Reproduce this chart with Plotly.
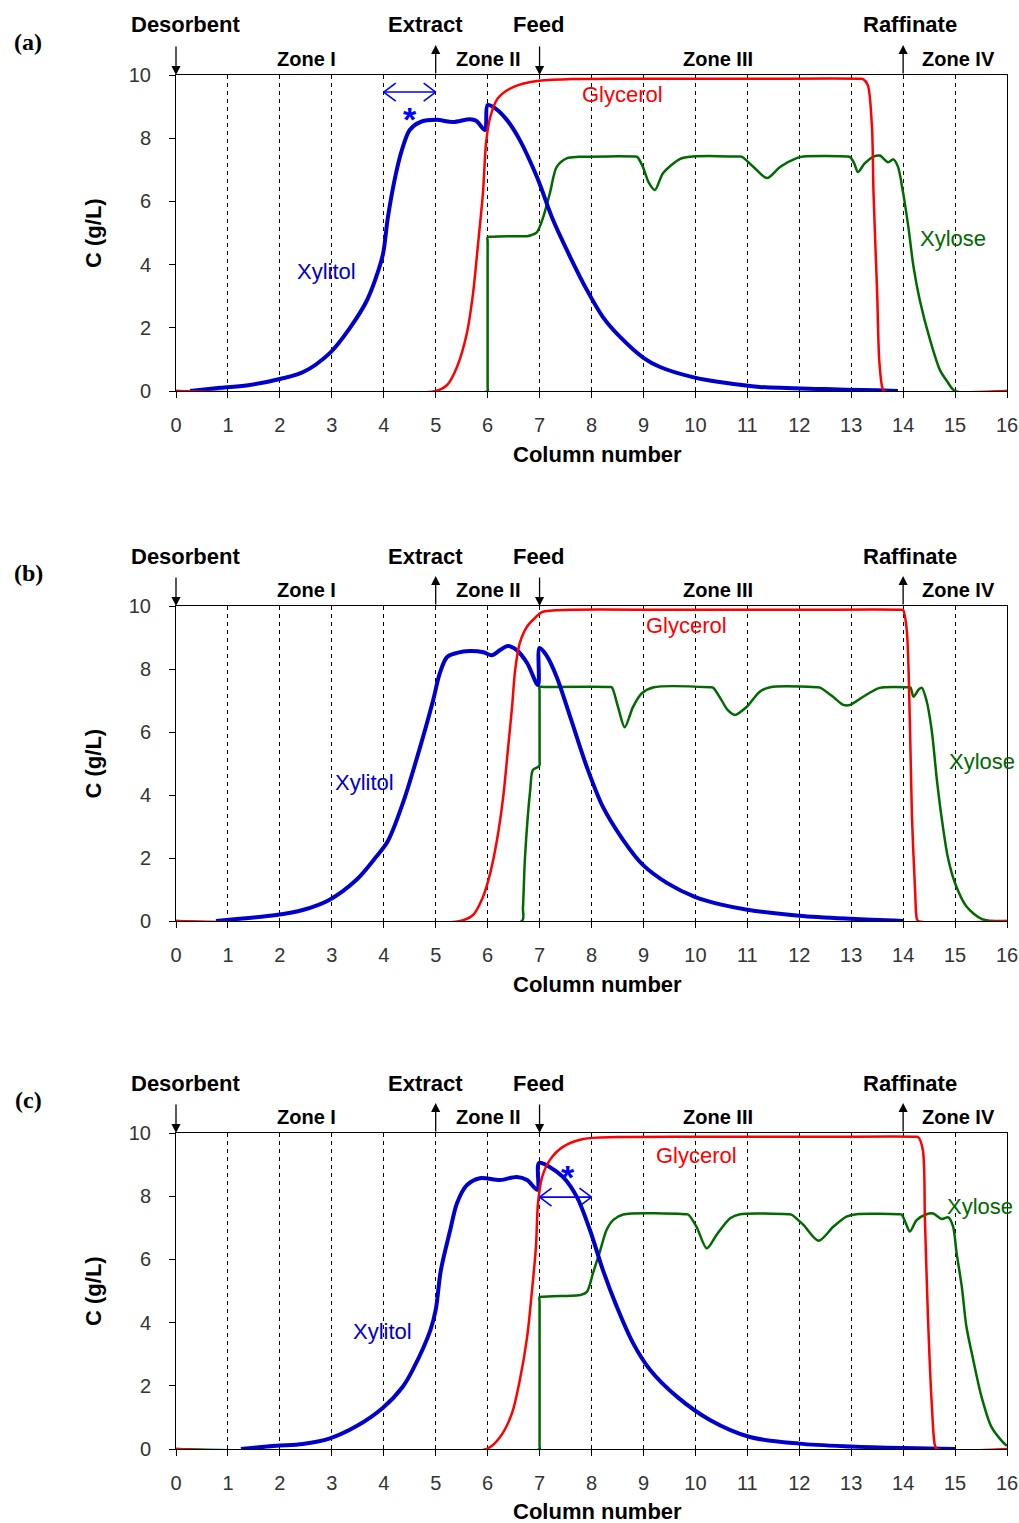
import plotly.graph_objects as go

# ---------------- data ----------------
columns = list(range(0, 17))
conc_ticks = [0, 2, 4, 6, 8, 10]
panel_labels = ["(a)", "(b)", "(c)"]
port_labels = ["Desorbent", "Extract", "Feed", "Raffinate"]
port_positions = [0, 5, 7, 14]
port_directions = ["down", "up", "down", "up"]
zone_labels = ["Zone I", "Zone II", "Zone III", "Zone IV"]

# Panel (a)
xylitol_a_x = [0.27, 0.85, 1.42, 2.0, 2.45, 2.96, 3.35, 3.68, 3.9, 3.99, 4.08, 4.22, 4.35, 4.5, 4.7, 5.02, 5.33,
               5.66, 5.78, 5.95, 6.0, 6.14, 6.37, 6.62, 6.95, 7.26, 7.59, 7.91, 8.22, 8.55, 9.0, 9.32, 9.95, 10.6,
               11.24, 12.5, 13.5, 13.9]
xylitol_a_y = [0.0, 0.1, 0.19, 0.38, 0.6, 1.2, 2.0, 2.88, 3.83, 4.37, 5.5, 6.77, 7.63, 8.26, 8.51, 8.58, 8.51,
               8.6, 8.55, 8.26, 9.05, 8.95, 8.58, 7.94, 6.77, 5.41, 4.24, 3.2, 2.34, 1.71, 1.05, 0.76, 0.44, 0.25,
               0.13, 0.06, 0.02, 0.0]
glycerol_a_x = [0, 5.0, 5.22, 5.41, 5.6, 5.72, 5.81, 5.91, 5.97, 6.05, 6.2, 6.49, 6.95, 7.6, 9.0, 11.0, 13.18,
                13.23, 13.32, 13.4, 13.43, 13.5, 13.54, 13.6, 13.63, 16]
glycerol_a_y = [0, 0, 0.19, 0.76, 1.83, 3.1, 4.56, 6.27, 7.85, 8.67, 9.27, 9.62, 9.81, 9.87, 9.88, 9.88, 9.88,
                9.87, 9.68, 8.35, 6.27, 3.1, 0.98, 0.1, 0, 0]
xylose_a_x = [0, 6.0, 6.0, 6.0, 6.0, 6.05, 6.4, 6.76, 6.82, 6.95, 7.07, 7.2, 7.33, 7.53, 7.76, 8.82, 8.88, 8.99,
              9.1, 9.22, 9.38, 9.7, 9.95, 10.84, 10.9, 11.12, 11.38, 11.63, 11.95, 12.08, 12.92, 12.98, 13.06,
              13.13, 13.26, 13.43, 13.55, 13.71, 13.81, 13.9, 14.0, 14.1, 14.2, 14.32, 14.52, 14.71, 14.85, 15.0,
              16]
xylose_a_y = [0, 0, 0.1, 4.7, 4.87, 4.88, 4.9, 4.9, 4.92, 5.03, 5.5, 6.27, 7.09, 7.37, 7.41, 7.42, 7.41, 7.09,
              6.6, 6.36, 6.9, 7.34, 7.42, 7.42, 7.41, 7.09, 6.74, 7.09, 7.37, 7.42, 7.42, 7.4, 7.2, 6.93, 7.2,
              7.42, 7.45, 7.24, 7.33, 7.1, 6.27, 5.2, 3.93, 2.88, 1.61, 0.66, 0.3, 0.0, 0]

# Panel (b)
xylitol_b_x = [0.77, 1.28, 1.93, 2.44, 2.95, 3.47, 3.85, 4.08, 4.37, 4.7, 4.95, 5.08, 5.22, 5.41, 5.66, 5.92, 6.08,
               6.24, 6.39, 6.56, 6.76, 6.97, 7.0, 7.13, 7.33, 7.59, 7.91, 8.22, 8.61, 8.99, 9.45, 10.0, 10.5, 11.0,
               12.0, 13.0, 14.0]
xylitol_b_y = [0.0, 0.08, 0.19, 0.35, 0.67, 1.3, 2.03, 2.54, 3.75, 5.52, 7.0, 7.87, 8.38, 8.51, 8.57, 8.53, 8.44,
               8.6, 8.73, 8.6, 8.19, 7.49, 8.67, 8.44, 7.75, 6.48, 4.89, 3.62, 2.57, 1.78, 1.21, 0.76, 0.52, 0.36,
               0.17, 0.07, 0.0]
glycerol_b_x = [0, 5.47, 5.72, 5.91, 6.05, 6.18, 6.3, 6.39, 6.47, 6.53, 6.62, 6.76, 6.91, 7.05, 7.6, 9.5, 12.0,
                13.95, 14.0, 14.07, 14.13, 14.17, 14.23, 14.26, 14.29, 16]
glycerol_b_y = [0, 0, 0.19, 0.76, 1.52, 2.57, 3.94, 5.43, 6.79, 7.97, 8.83, 9.35, 9.62, 9.81, 9.88, 9.88, 9.88,
                9.88, 9.87, 9.24, 6.29, 3.3, 0.98, 0.1, 0, 0]
xylose_b_x = [0, 6.66, 6.68, 6.72, 6.82, 6.87, 6.97, 7.0, 7.0, 7.0, 7.0, 7.08, 8.33, 8.39, 8.51, 8.64, 8.8, 8.97,
              9.2, 10.28, 10.34, 10.5, 10.62, 10.76, 10.99, 11.24, 11.44, 12.34, 12.4, 12.65, 12.85, 12.98, 13.23,
              13.55, 14.08, 14.14, 14.2, 14.3, 14.36, 14.45, 14.55, 14.65, 14.74, 14.86, 15.0, 15.22, 15.52, 16]
xylose_b_y = [0, 0, 0.4, 2.03, 4.16, 4.79, 4.89, 4.95, 5.1, 7.3, 7.43, 7.43, 7.43, 7.42, 6.8, 6.15, 6.8, 7.23,
              7.42, 7.42, 7.41, 7.02, 6.7, 6.54, 6.8, 7.28, 7.42, 7.42, 7.41, 7.12, 6.86, 6.86, 7.12, 7.4, 7.42,
              7.41, 7.12, 7.35, 7.4, 7.0, 6.06, 4.48, 3.3, 2.03, 1.2, 0.46, 0.06, 0]

# Panel (c)
xylitol_c_x = [1.25, 1.93, 2.44, 2.95, 3.47, 3.98, 4.37, 4.56, 4.9, 5.0, 5.1, 5.28, 5.41, 5.6, 5.85, 6.24, 6.56,
               6.76, 6.96, 6.99, 7.2, 7.45, 7.72, 7.97, 8.22, 8.49, 8.8, 9.13, 9.65, 10.28, 11.05, 12.0, 13.0, 14.0,
               15.0]
xylitol_c_y = [0.0, 0.1, 0.16, 0.33, 0.72, 1.3, 1.98, 2.51, 3.77, 4.4, 5.66, 6.93, 7.78, 8.35, 8.57, 8.51, 8.61,
               8.51, 8.2, 9.05, 8.92, 8.61, 7.97, 6.93, 5.66, 4.49, 3.35, 2.5, 1.65, 0.92, 0.38, 0.17, 0.08, 0.03,
               0.0]
glycerol_c_x = [0, 5.98, 6.24, 6.47, 6.62, 6.76, 6.85, 6.93, 6.97, 7.05, 7.2, 7.45, 7.84, 8.5, 10.5, 12.5, 14.24,
                14.29, 14.38, 14.42, 14.48, 14.55, 14.61, 14.65, 16]
glycerol_c_y = [0, 0, 0.38, 1.14, 2.18, 3.54, 4.94, 6.39, 7.78, 8.61, 9.15, 9.56, 9.81, 9.87, 9.88, 9.88, 9.88,
                9.87, 9.46, 7.25, 4.08, 1.46, 0.13, 0, 0]
xylose_c_x = [0, 7.0, 7.0, 7.0, 7.0, 7.06, 7.72, 7.78, 7.91, 8.03, 8.16, 8.29, 8.42, 8.61, 9.8, 9.86, 10.02, 10.22,
              10.41, 10.67, 10.86, 11.79, 11.85, 12.08, 12.37, 12.66, 12.91, 13.1, 13.91, 13.97, 14.05, 14.13,
              14.26, 14.45, 14.58, 14.74, 14.87, 14.96, 15.03, 15.13, 15.22, 15.35, 15.51, 15.7, 15.92, 16.0]
xylose_c_y = [0, 0, 0.1, 4.65, 4.81, 4.82, 4.86, 4.87, 4.97, 5.57, 6.24, 6.93, 7.25, 7.42, 7.43, 7.42, 7.04, 6.35,
              6.78, 7.3, 7.43, 7.43, 7.42, 7.09, 6.59, 7.04, 7.35, 7.43, 7.43, 7.42, 7.15, 6.88, 7.24, 7.43, 7.45,
              7.28, 7.33, 7.05, 6.2, 5.13, 3.86, 2.82, 1.65, 0.7, 0.22, 0.1]

label_pos = {
    "a": {"Xylitol": (2.9, 3.77), "Glycerol": (8.59, 9.37), "Xylose": (14.96, 4.84)},
    "b": {"Xylitol": (3.62, 4.4), "Glycerol": (9.82, 9.37), "Xylose": (15.52, 5.05)},
    "c": {"Xylitol": (3.97, 3.73), "Glycerol": (10.03, 9.3), "Xylose": (15.48, 7.69)},
}
marked_a = (4, 5, 9.46)
marked_c = (7, 8, 7.97)
star_a = (4.5, 8.62)
star_c = (7.55, 8.62)

# ---------------- styling ----------------
W, H = 1019, 1523
FONT = "Arial, Liberation Sans, sans-serif"
C_XYLITOL = "#0000CC"
C_GLYCEROL = "#FF0000"
C_XYLOSE = "#006A00"
C_MARK = "#0000FF"
tops = [75, 606, 1133]
bottoms = [391, 921, 1449]
xdom = [176 / W, 1007 / W]

data = {
    "a": (xylitol_a_x, xylitol_a_y, glycerol_a_x, glycerol_a_y, xylose_a_x, xylose_a_y),
    "b": (xylitol_b_x, xylitol_b_y, glycerol_b_x, glycerol_b_y, xylose_b_x, xylose_b_y),
    "c": (xylitol_c_x, xylitol_c_y, glycerol_c_x, glycerol_c_y, xylose_c_x, xylose_c_y),
}

fig = go.Figure()
annotations = []
shapes = []
layout = dict(width=W, height=H, autosize=False, margin=dict(l=0, r=0, t=0, b=0, pad=0, autoexpand=False),
              paper_bgcolor="white", plot_bgcolor="white", showlegend=False, font=dict(family=FONT))

for i, key in enumerate(["a", "b", "c"]):
    sfx = "" if i == 0 else str(i + 1)
    xname, yname = "x" + sfx, "y" + sfx
    top, bot = tops[i], bottoms[i]
    ph = bot - top
    layout["xaxis" + sfx] = dict(
        domain=xdom, anchor=yname, range=[0, 16], tickvals=columns, ticktext=[str(c) for c in columns],
        showgrid=True, gridcolor="black", griddash="4px,4px", gridwidth=1,
        showline=True, linecolor="black", linewidth=1, mirror=True, automargin=False,
        ticks="outside", ticklen=6, tickcolor="black", ticklabelstandoff=10,
        tickfont=dict(family=FONT, size=20, color="#333"), zeroline=False)
    layout["yaxis" + sfx] = dict(
        domain=[1 - bot / H, 1 - top / H], anchor=xname, range=[0, 10], tickvals=conc_ticks,
        showgrid=False, showline=True, linecolor="black", linewidth=1, mirror=True, automargin=False,
        ticks="outside", ticklen=6, tickcolor="black", ticklabelstandoff=14,
        tickfont=dict(family=FONT, size=20, color="#333"), zeroline=False)

    xl_x, xl_y, gl_x, gl_y, xs_x, xs_y = data[key]
    fig.add_trace(go.Scatter(x=xs_x, y=xs_y, mode="lines",
                             line=dict(color=C_XYLOSE, width=2.5, shape="spline", smoothing=0.8),
                             xaxis=xname, yaxis=yname, name="Xylose"))
    fig.add_trace(go.Scatter(x=xl_x, y=xl_y, mode="lines",
                             line=dict(color=C_XYLITOL, width=4, shape="spline", smoothing=0.9),
                             xaxis=xname, yaxis=yname, name="Xylitol"))
    fig.add_trace(go.Scatter(x=gl_x, y=gl_y, mode="lines",
                             line=dict(color=C_GLYCEROL, width=2.5, shape="spline", smoothing=0.8),
                             xaxis=xname, yaxis=yname, name="Glycerol"))

    ydref = yname + " domain"
    label_x = [0.19, 4.81, 6.97, 14.13]
    for lab, px_, d, lx in zip(port_labels, port_positions, port_directions, label_x):
        annotations.append(dict(text="<b>%s</b>" % lab, x=lx, y=(ph + 50) / ph,
                                xref=xname, yref=ydref, showarrow=False,
                                font=dict(family=FONT, size=22, color="black"),
                                xanchor="center", yanchor="middle"))
        if d == "down":
            annotations.append(dict(text="", x=px_, y=1, xref=xname, yref=ydref, ax=0, ay=-30,
                                    showarrow=True, arrowhead=2, arrowsize=1.4, arrowwidth=1.3,
                                    arrowcolor="black", standoff=0))
        else:
            annotations.append(dict(text="", x=px_, y=1 + 30 / ph, xref=xname, yref=ydref, ax=0, ay=30,
                                    showarrow=True, arrowhead=2, arrowsize=1.4, arrowwidth=1.3,
                                    arrowcolor="black", standoff=0))
    zone_x = [2.52, 6.0, 10.43, 15.06]
    for zl, zx in zip(zone_labels, zone_x):
        annotations.append(dict(text="<b>%s</b>" % zl, x=zx, y=(ph + 16) / ph, xref=xname, yref=ydref,
                                showarrow=False, font=dict(family=FONT, size=20, color="black"),
                                xanchor="center", yanchor="middle"))
    for name, col in [("Xylitol", C_XYLITOL), ("Glycerol", C_GLYCEROL), ("Xylose", C_XYLOSE)]:
        lx, ly = label_pos[key][name]
        annotations.append(dict(text=name, x=lx, y=ly, xref=xname, yref=yname, showarrow=False,
                                font=dict(family=FONT, size=22, color=col), xanchor="center", yanchor="middle"))
    annotations.append(dict(text="<b>C (g/L)</b>", x=93 / W, y=0.5, xref="paper", yref=ydref, textangle=-90,
                            showarrow=False, font=dict(family=FONT, size=22, color="black"),
                            xanchor="center", yanchor="middle"))
    annotations.append(dict(text="<b>Column number</b>", x=(597 - 176) / 831, y=-63 / ph, xref=xname + " domain",
                            yref=ydref, showarrow=False, font=dict(family=FONT, size=22, color="black"),
                            xanchor="center", yanchor="middle"))
    annotations.append(dict(text="<b>%s</b>" % panel_labels[i], x=28 / W, y=1 - (top - 33) / H, xref="paper",
                            yref="paper", showarrow=False,
                            font=dict(family="Liberation Serif, Times New Roman, serif", size=24, color="black"),
                            xanchor="center", yanchor="middle"))

# marked intervals: double-headed arrows with open V heads, plus asterisks
for (xs, xe, yy), (sx, sy), xname, yname in [(marked_a, star_a, "x", "y"), (marked_c, star_c, "x3", "y3")]:
    line = dict(color=C_MARK, width=1.6)
    shapes.append(dict(type="line", xref=xname, yref=yname, x0=xs, x1=xe, y0=yy, y1=yy, line=line))
    for anchor_x, sign in [(xs, 1), (xe, -1)]:
        for dy in (9, -9):
            shapes.append(dict(type="line", xref=xname, yref=yname, xsizemode="pixel", ysizemode="pixel",
                               xanchor=anchor_x, yanchor=yy, x0=0, x1=sign * 12, y0=0, y1=dy, line=line))
    annotations.append(dict(text="<b>*</b>", x=sx, y=sy, xref=xname, yref=yname, showarrow=False,
                            font=dict(family=FONT, size=34, color=C_MARK), xanchor="center", yanchor="middle"))

layout["annotations"] = annotations
layout["shapes"] = shapes
fig.update_layout(**layout)

fig.write_html("out.html", config={"displayModeBar": False, "responsive": False})
with open("out.html", "r", encoding="utf-8") as f:
    html = f.read()
css = "<style>html,body{margin:0!important;padding:0!important;overflow:hidden;background:white;}</style>"
if "<head>" in html:
    html = html.replace("<head>", "<head>" + css, 1)
else:
    html = css + html
with open("out.html", "w", encoding="utf-8") as f:
    f.write(html)
